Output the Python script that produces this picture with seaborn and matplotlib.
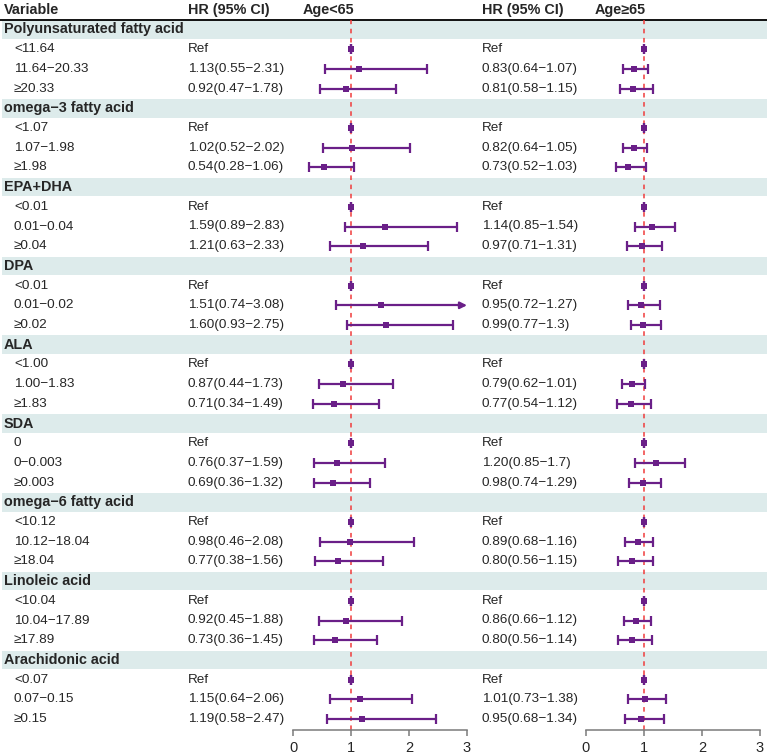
import numpy as np
import pandas as pd
import matplotlib
matplotlib.use('Agg')
import matplotlib.pyplot as plt
import seaborn as sns

# 데이터
groups = ['Polyunsaturated fatty acid', 'omega−3 fatty acid', 'EPA+DHA', 'DPA', 'ALA',
          'SDA', 'omega−6 fatty acid', 'Linoleic acid', 'Arachidonic acid']
levels = [['<11.64', '11.64−20.33', '≥20.33'],
          ['<1.07', '1.07−1.98', '≥1.98'],
          ['<0.01', '0.01−0.04', '≥0.04'],
          ['<0.01', '0.01−0.02', '≥0.02'],
          ['<1.00', '1.00−1.83', '≥1.83'],
          ['0', '0−0.003', '≥0.003'],
          ['<10.12', '10.12−18.04', '≥18.04'],
          ['<10.04', '10.04−17.89', '≥17.89'],
          ['<0.07', '0.07−0.15', '≥0.15']]

# Age<65 (Ref 행은 None)
hr_young = [None, '1.13', '0.92', None, '1.02', '0.54', None, '1.59', '1.21',
            None, '1.51', '1.60', None, '0.87', '0.71', None, '0.76', '0.69',
            None, '0.98', '0.77', None, '0.92', '0.73', None, '1.15', '1.19']
lo_young = [None, '0.55', '0.47', None, '0.52', '0.28', None, '0.89', '0.63',
            None, '0.74', '0.93', None, '0.44', '0.34', None, '0.37', '0.36',
            None, '0.46', '0.38', None, '0.45', '0.36', None, '0.64', '0.58']
hi_young = [None, '2.31', '1.78', None, '2.02', '1.06', None, '2.83', '2.33',
            None, '3.08', '2.75', None, '1.73', '1.49', None, '1.59', '1.32',
            None, '2.08', '1.56', None, '1.88', '1.45', None, '2.06', '2.47']

# Age>=65
hr_old = [None, '0.83', '0.81', None, '0.82', '0.73', None, '1.14', '0.97',
          None, '0.95', '0.99', None, '0.79', '0.77', None, '1.20', '0.98',
          None, '0.89', '0.80', None, '0.86', '0.80', None, '1.01', '0.95']
lo_old = [None, '0.64', '0.58', None, '0.64', '0.52', None, '0.85', '0.71',
          None, '0.72', '0.77', None, '0.62', '0.54', None, '0.85', '0.74',
          None, '0.68', '0.56', None, '0.66', '0.56', None, '0.73', '0.68']
hi_old = [None, '1.07', '1.15', None, '1.05', '1.03', None, '1.54', '1.31',
          None, '1.27', '1.3', None, '1.01', '1.12', None, '1.7', '1.29',
          None, '1.16', '1.15', None, '1.12', '1.14', None, '1.38', '1.34']

x_ticks = [0, 1, 2, 3]

# 스타일
sns.set_theme(style='white')
plt.rcParams['font.family'] = ['Liberation Sans', 'DejaVu Sans']

W, H = 767, 754
purple = '#6A1F88'
band_col = '#DDEBEB'
fs = 9.7
fs_b = 10.4

row_h = 19.7
y0 = 29.5
top_line = 19.5
axis_y = 729.5


def make_df(hr, lo, hi):
    rows = []
    k = 0
    for g in range(len(groups)):
        for j in range(3):
            i = g * 4 + 1 + j
            if hr[k] is None:
                rows.append(dict(y=y0 + row_h * i, est=1.0, lo=1.0, hi=1.0, txt='Ref'))
            else:
                rows.append(dict(y=y0 + row_h * i, est=float(hr[k]), lo=float(lo[k]),
                                 hi=float(hi[k]), txt=f'{hr[k]}({lo[k]}−{hi[k]})'))
            k += 1
    return pd.DataFrame(rows)


df_young = make_df(hr_young, lo_young, hi_young)
df_old = make_df(hr_old, lo_old, hi_old)

fig = plt.figure(figsize=(W / 100, H / 100), dpi=100)
bg = fig.add_axes([0, 0, 1, 1])
bg.set_xlim(0, W)
bg.set_ylim(H, 0)
bg.axis('off')

# 헤더
for x, t in [(4, 'Variable'), (188, 'HR (95% CI)'), (303, 'Age<65'),
             (482, 'HR (95% CI)'), (595, 'Age≥65')]:
    bg.text(x, 10, t, fontsize=fs_b, fontweight='bold', va='center', ha='left')
bg.plot([0, W], [top_line, top_line], color='black', lw=1.3)

# 그룹 밴드 + 텍스트
for g, name in enumerate(groups):
    yc = y0 + row_h * g * 4
    bg.add_patch(plt.Rectangle((2, yc - row_h / 2 + 0.6), W - 2, row_h - 1.2,
                               color=band_col, lw=0, zorder=0))
    bg.text(4, yc, name, fontsize=fs_b, fontweight='bold', va='center', ha='left')
    for j, lv in enumerate(levels[g]):
        bg.text(14, yc + row_h * (j + 1), lv, fontsize=fs, va='center', ha='left')

for x, d in [(188, df_young), (482, df_old)]:
    for _, r in d.iterrows():
        bg.text(x, r['y'], r['txt'], fontsize=fs, va='center', ha='left')


def forest(left_px, d):
    ax = fig.add_axes([left_px / W, (H - axis_y) / H, 174 / W, (axis_y - top_line) / H])
    ax.set_facecolor('none')
    ax.set_xlim(0, 3)
    ax.set_ylim(axis_y, top_line)
    ax.axvline(1, color='#F03C3C', ls=(0, (3, 3)), lw=1.1, zorder=1)
    for _, r in d.iterrows():
        hi_c = min(r['hi'], 3)
        if r['hi'] > 3:
            ax.plot([r['lo'], 2.9], [r['y'], r['y']], color=purple, lw=1.6, zorder=2)
            ax.annotate('', xy=(3, r['y']), xytext=(2.85, r['y']),
                        arrowprops=dict(arrowstyle='-|>', color=purple, lw=1.6,
                                        mutation_scale=10, shrinkA=0, shrinkB=0),
                        annotation_clip=False)
            caps = [r['lo']]
        else:
            ax.plot([r['lo'], hi_c], [r['y'], r['y']], color=purple, lw=1.6, zorder=2)
            caps = [r['lo'], hi_c]
        ax.plot(caps, [r['y']] * len(caps), ls='none', marker='|', ms=6.5, mew=1.6,
                color=purple, clip_on=False, zorder=2)
    sns.scatterplot(data=d, x='est', y='y', marker='s', s=14, color=purple,
                    linewidth=0, ax=ax, zorder=3, clip_on=False, legend=False)
    for s in ['top', 'left', 'right']:
        ax.spines[s].set_visible(False)
    ax.spines['bottom'].set_color('#7A7A7A')
    ax.spines['bottom'].set_linewidth(1.1)
    ax.set_xticks(x_ticks)
    ax.set_xticklabels([str(t) for t in x_ticks])
    ax.tick_params(axis='x', direction='out', length=4, width=1.1, color='#7A7A7A',
                   labelsize=10.5, pad=4, bottom=True)
    ax.set_yticks([])
    ax.set_xlabel('')
    ax.set_ylabel('')
    return ax


forest(293, df_young)
forest(586, df_old)

fig.savefig('out.png', dpi=100)
